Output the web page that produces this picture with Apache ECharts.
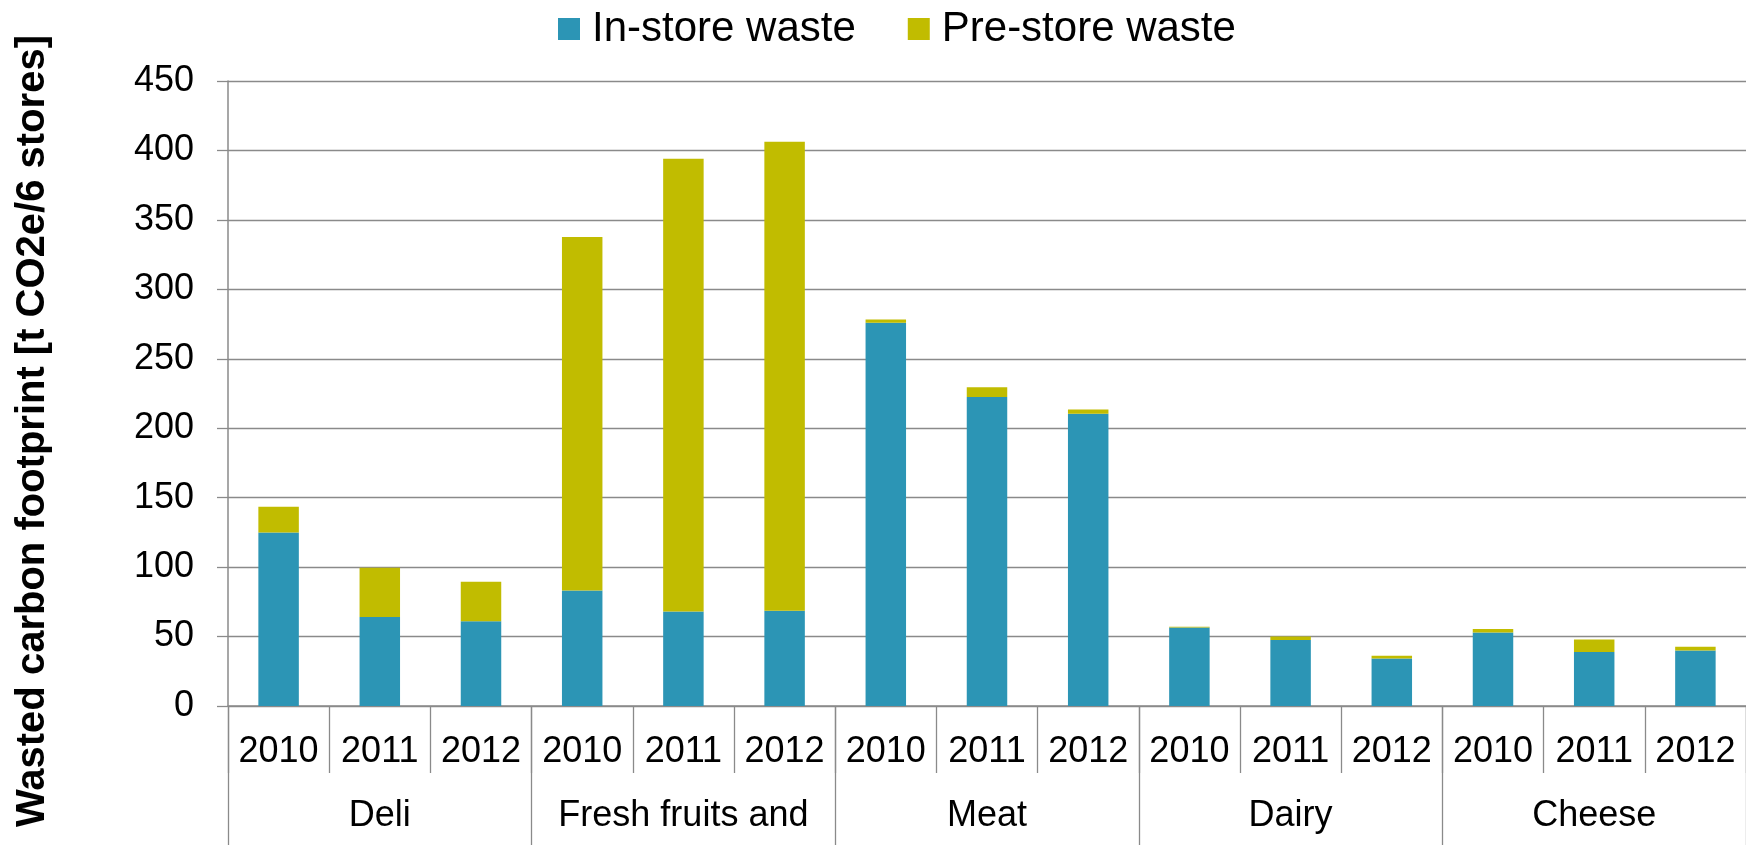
<!DOCTYPE html>
<html>
<head>
<meta charset="utf-8">
<script src="https://cdn.jsdelivr.net/npm/echarts@6/dist/echarts.min.js"></script>
<style>
html,body{margin:0;padding:0;background:#fff;}
#chart{width:1746px;height:845px;}
</style>
</head>
<body>
<div id="chart"></div>
<script>
const years = ['2010','2011','2012','2010','2011','2012','2010','2011','2012','2010','2011','2012','2010','2011','2012'];
const groups = ['Deli','Fresh fruits and','Meat','Dairy','Cheese'];
const inStore = [125, 64, 61, 83.2, 68, 68.6, 276, 222.5, 210.5, 56.5, 47.6, 34.2, 53, 38.8, 40];
const preStore = [18.5, 35.5, 28.5, 254.4, 326, 337.6, 2.3, 7, 3, 0.6, 2.5, 1.9, 2.5, 9, 2.6];
const yTicks = {min: 0, max: 450, interval: 50};
const yTitle = 'Wasted carbon footprint [t CO2e/6 stores]';

const FONT = "'Liberation Sans', Arial, sans-serif";
const GRAY = '#8a8a8a';
const chart = echarts.init(document.getElementById('chart'), null, {renderer: 'canvas'});
chart.setOption({
  animation: false,
  backgroundColor: '#fff',
  textStyle: {fontFamily: FONT},
  legend: {
    left: 553, top: 3,
    icon: 'rect', itemWidth: 22, itemHeight: 22, itemGap: 52,
    textStyle: {fontSize: 42, color: '#000', fontFamily: FONT, padding: [0, 0, 0, 7]},
    data: ['In-store waste', 'Pre-store waste']
  },
  grid: {left: 228, top: 81, bottom: 139, width: 1525, containLabel: false},
  xAxis: [
    {
      type: 'category', data: years, position: 'bottom',
      axisLine: {show: true, lineStyle: {color: GRAY, width: 1.5}},
      axisTick: {show: true, interval: 0, length: 67, lineStyle: {color: GRAY, width: 1.3}},
      axisLabel: {interval: 0, fontSize: 36, color: '#000', margin: 28, fontFamily: FONT}
    },
    {
      type: 'category', data: groups, position: 'bottom',
      axisLine: {show: false},
      axisTick: {show: true, interval: 0, length: 140, lineStyle: {color: GRAY, width: 1.3}},
      axisLabel: {interval: 0, fontSize: 36, color: '#000', margin: 92, fontFamily: FONT}
    }
  ],
  yAxis: {
    type: 'value', min: yTicks.min, max: yTicks.max, interval: yTicks.interval,
    axisLine: {show: true, lineStyle: {color: GRAY, width: 1.5}},
    axisTick: {show: true, length: 11, lineStyle: {color: GRAY, width: 1.3}},
    axisLabel: {fontSize: 36, color: '#000', margin: 34, fontFamily: FONT},
    splitLine: {show: true, lineStyle: {color: GRAY, width: 1.4}}
  },
  graphic: [{
    type: 'text', x: 33, y: 431, rotation: Math.PI / 2,
    style: {text: yTitle, textAlign: 'center', textVerticalAlign: 'middle',
      font: "bold 40px 'Liberation Sans', Arial, sans-serif", fill: '#000'}
  }],
  series: [
    {name: 'In-store waste', type: 'bar', stack: 'total', xAxisIndex: 0, barWidth: '40%',
     itemStyle: {color: '#2C95B5'}, data: inStore},
    {name: 'Pre-store waste', type: 'bar', stack: 'total', xAxisIndex: 0, barWidth: '40%',
     itemStyle: {color: '#C1BC00'}, data: preStore}
  ]
});
</script>
</body>
</html>
